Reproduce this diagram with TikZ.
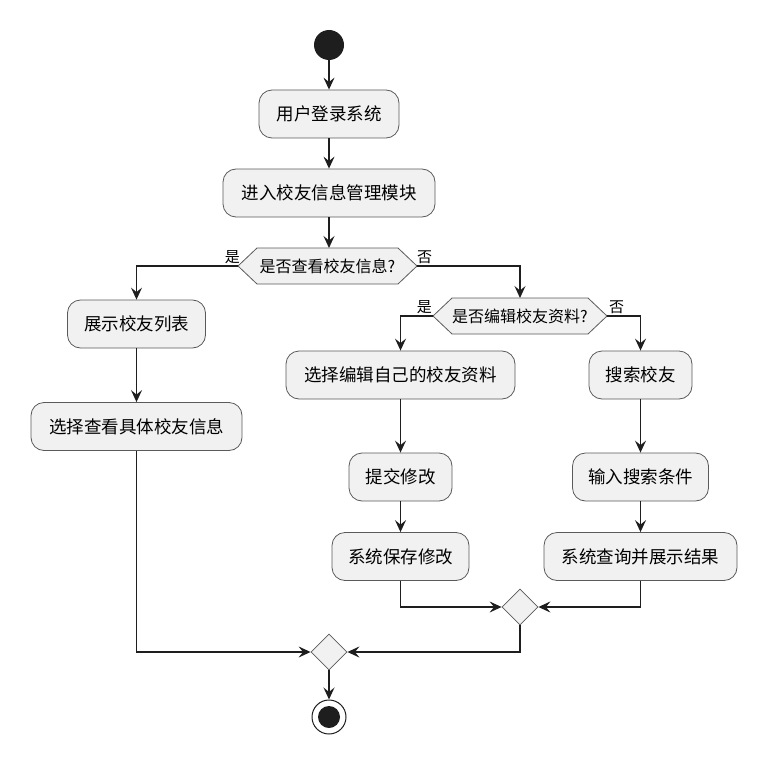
\documentclass[tikz,border=0pt]{standalone}
\usepackage{fontspec}
\newfontfamily\cjk{Noto Sans CJK SC}
\usetikzlibrary{arrows.meta,calc,shapes.geometric}
\definecolor{fillc}{HTML}{F1F1F1}
\definecolor{bordc}{HTML}{5A5A5A}
\definecolor{linec}{HTML}{1E1E1E}
\begin{document}
\begin{tikzpicture}[x=1pt,y=-1pt,
  act/.style={draw=bordc, fill=fillc, rounded corners=13pt, line width=0.8pt,
    minimum height=48pt, inner sep=0pt, font=\cjk\fontsize{17.5}{19}\selectfont},
  dectext/.style={inner sep=0pt, font=\cjk\fontsize{16}{18}\selectfont},
  hexbox/.style={draw=bordc, fill=fillc, line width=0.8pt},
  merge/.style={draw=bordc, fill=fillc, line width=0.8pt},
  lbl/.style={inner sep=0pt, font=\cjk\fontsize{15}{16}\selectfont},
  flow/.style={draw=linec, line width=1.4pt, -{Stealth[length=12pt,width=11pt,inset=4.5pt]}},
]
\useasboundingbox (0,0) rectangle (768,765);

% start
\node[circle, fill=linec, minimum size=30pt, inner sep=0pt] (start) at (329,45) {};

% activities
\node[act, minimum width=140pt] (login) at (329,114) {用户登录系统};
\node[act, minimum width=212pt] (enter) at (329,193) {进入校友信息管理模块};
\node[act, minimum width=138pt] (list) at (136.5,324) {展示校友列表};
\node[act, minimum width=211pt] (view) at (136.5,426.5) {选择查看具体校友信息};
\node[act, minimum width=229pt] (editsel) at (400.5,375) {选择编辑自己的校友资料};
\node[act, minimum width=103pt] (search) at (640.5,375) {搜索校友};
\node[act, minimum width=103pt] (submit) at (400.5,477) {提交修改};
\node[act, minimum width=137pt] (save) at (400.5,556.5) {系统保存修改};
\node[act, minimum width=136pt] (cond) at (640.5,477) {输入搜索条件};
\node[act, minimum width=193pt] (result) at (640.5,556.5) {系统查询并展示结果};

% decision 1
\coordinate (d1w) at (238,266);
\coordinate (d1e) at (417,266);
\coordinate (d1n) at (329,248);
\draw[hexbox] (d1w) -- (257,248) -- (398,248) -- (d1e) -- (398,284) -- (257,284) -- cycle;
\node[dectext] (d1) at (327.5,266) {是否查看校友信息?};

% decision 2
\coordinate (d2w) at (433,316);
\coordinate (d2e) at (607,316);
\coordinate (d2n) at (520,298);
\draw[hexbox] (d2w) -- (452,298) -- (588,298) -- (d2e) -- (588,334) -- (452,334) -- cycle;
\node[dectext] (d2) at (520,316) {是否编辑校友资料?};

% merges
\node[merge, diamond, minimum size=36pt, inner sep=0pt] (m1) at (520,607) {};
\node[merge, diamond, minimum size=36pt, inner sep=0pt] (m2) at (329,652) {};

% end
\node[circle, draw=linec, fill=white, line width=1pt, minimum size=34pt, inner sep=0pt] (stop) at (329,717) {};
\node[circle, fill=linec, minimum size=22pt, inner sep=0pt] (stopin) at (329,717) {};

% labels
\node[lbl, anchor=south east] (yes1) at (240,264) {是};
\node[lbl, anchor=south west] (no1) at (417,264) {否};
\node[lbl, anchor=south east] (yes2) at (432,314) {是};
\node[lbl, anchor=south west] (no2) at (609,314) {否};

% flows
\draw[flow] (start) -- (login);
\draw[flow] (login) -- (enter);
\draw[flow] (enter) -- (d1n);
\draw[flow] (d1w) -| (list.north);
\draw[flow] (d1e) -| (d2n);
\draw[flow] (list) -- (view);
\draw[flow] (d2w) -| (editsel.north);
\draw[flow] (d2e) -| (search.north);
\draw[flow] (editsel) -- (submit);
\draw[flow] (submit) -- (save);
\draw[flow] (search) -- (cond);
\draw[flow] (cond) -- (result);
\draw[flow] (save.south) |- (m1.west);
\draw[flow] (result.south) |- (m1.east);
\draw[flow] (view.south) |- (m2.west);
\draw[flow] (m1.south) |- (m2.east);
\draw[flow] (m2.south) -- (stop.north);
\end{tikzpicture}
\end{document}
